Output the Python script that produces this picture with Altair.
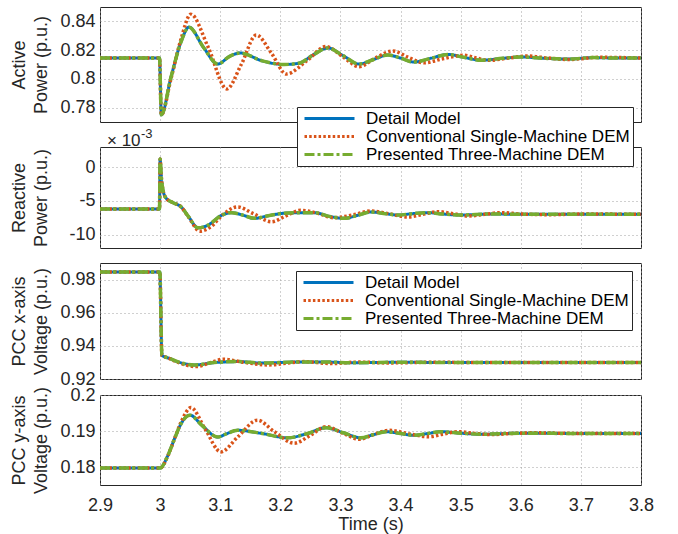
import altair as alt
import pandas as pd

SERIES = ["Detail Model", "Conventional Single-Machine DEM", "Presented Three-Machine DEM"]
COLORS = ["#0072BD", "#D95319", "#77AC30"]
DASHES = [[1, 0], [2.5, 2.2], [10, 3, 3, 3]]
WIDTHS = [3, 3.5, 3.5]
X_TICKS = [2.9, 3.0, 3.1, 3.2, 3.3, 3.4, 3.5, 3.6, 3.7, 3.8]

# Panel 1: active power (p.u.)
t_ap_det = [2.9, 2.999, 3.002, 3.018, 3.035, 3.048, 3.072, 3.096, 3.115, 3.133, 3.17, 3.206, 3.23, 3.256,
            3.279, 3.305, 3.331, 3.355, 3.379, 3.40, 3.422, 3.45, 3.479, 3.505, 3.534, 3.57, 3.60, 3.64,
            3.68, 3.72, 3.76, 3.8]
ap_det = [0.8145, 0.8145, 0.775, 0.801, 0.826, 0.836, 0.822, 0.8103, 0.8155, 0.818, 0.8125, 0.8100, 0.8108,
          0.817, 0.8215, 0.816, 0.8103, 0.8135, 0.8166, 0.8145, 0.8117, 0.8143, 0.817, 0.815, 0.813, 0.8143,
          0.8152, 0.8143, 0.8138, 0.8148, 0.8145, 0.8145]
t_ap_con = [2.9, 2.999, 3.002, 3.018, 3.035, 3.051, 3.08, 3.111, 3.135, 3.16, 3.185, 3.21, 3.245, 3.276,
            3.305, 3.331, 3.36, 3.387, 3.413, 3.439, 3.47, 3.506, 3.526, 3.546, 3.58, 3.612, 3.645, 3.68,
            3.73, 3.8]
ap_con = [0.8145, 0.8145, 0.775, 0.800, 0.828, 0.845, 0.822, 0.793, 0.810, 0.8305, 0.818, 0.8034, 0.813,
          0.8225, 0.815, 0.8085, 0.815, 0.8194, 0.815, 0.8112, 0.814, 0.8164, 0.8145, 0.8129, 0.8145, 0.8159,
          0.8145, 0.8135, 0.815, 0.8145]
t_ap_pre = t_ap_det
ap_pre = ap_det

# Panel 2: reactive power (x 1e-3 p.u.)
t_rp_det = [2.9, 2.999, 3.0, 3.002, 3.005, 3.01, 3.02, 3.035, 3.047, 3.063, 3.08, 3.101, 3.118, 3.137, 3.157,
            3.18, 3.213, 3.256, 3.284, 3.306, 3.33, 3.351, 3.375, 3.396, 3.42, 3.446, 3.47, 3.50, 3.55, 3.6,
            3.7, 3.8]
rp_det = [-6.2, -6.2, 1.2, -1.5, -3.5, -4.6, -5.2, -5.9, -7.3, -9.0, -8.6, -7.2, -6.75, -7.1, -7.6, -7.2,
          -6.8, -6.75, -7.35, -7.6, -7.1, -6.65, -6.9, -7.1, -6.9, -6.75, -6.95, -7.1, -6.95, -7.0, -7.0, -7.0]
t_rp_con = [2.9, 2.999, 3.0, 3.002, 3.005, 3.01, 3.02, 3.035, 3.048, 3.066, 3.085, 3.105, 3.129, 3.155,
            3.185, 3.21, 3.234, 3.26, 3.289, 3.32, 3.351, 3.38, 3.412, 3.437, 3.462, 3.487, 3.512, 3.54,
            3.567, 3.6, 3.65, 3.7, 3.8]
rp_con = [-6.2, -6.2, 1.2, -1.5, -3.5, -4.6, -5.2, -5.9, -7.5, -9.5, -8.8, -7.0, -5.9, -6.9, -8.1, -7.2,
          -6.4, -6.8, -7.5, -7.1, -6.5, -6.9, -7.4, -7.0, -6.6, -6.9, -7.25, -7.0, -6.75, -6.95, -7.05,
          -6.95, -7.0]
t_rp_pre = t_rp_det
rp_pre = rp_det

# Panel 3: PCC x-axis voltage (p.u.)
t_vx_det = [2.9, 2.9995, 3.003, 3.015, 3.03, 3.057, 3.09, 3.13, 3.17, 3.22, 3.27, 3.32, 3.4, 3.5, 3.6, 3.8]
vx_det = [0.9845, 0.9845, 0.9343, 0.9325, 0.9303, 0.9285, 0.9299, 0.9305, 0.9296, 0.9302, 0.9303, 0.9298,
          0.9301, 0.9299, 0.930, 0.930]
t_vx_con = [2.9, 2.9995, 3.003, 3.015, 3.03, 3.06, 3.085, 3.105, 3.14, 3.18, 3.21, 3.24, 3.284, 3.33, 3.38,
            3.45, 3.55, 3.8]
vx_con = [0.9845, 0.9845, 0.9343, 0.9325, 0.9300, 0.9275, 0.9300, 0.9319, 0.9300, 0.9285, 0.9295, 0.9305,
          0.9293, 0.9302, 0.9297, 0.9301, 0.9299, 0.930]
t_vx_pre = t_vx_det
vx_pre = vx_det

# Panel 4: PCC y-axis voltage (p.u.)
t_vy_det = [2.9, 3.0, 3.0126, 3.0236, 3.0348, 3.0431, 3.0497, 3.07, 3.0958, 3.11, 3.129, 3.17, 3.212, 3.245,
            3.276, 3.305, 3.334, 3.355, 3.376, 3.40, 3.422, 3.445, 3.467, 3.50, 3.534, 3.6, 3.7, 3.8]
vy_det = [0.1797, 0.1797, 0.1831, 0.1877, 0.1920, 0.1939, 0.1944, 0.1915, 0.1883, 0.1892, 0.1902, 0.1893,
          0.1881, 0.1893, 0.1909, 0.1895, 0.1881, 0.1890, 0.1898, 0.1893, 0.1888, 0.1893, 0.1898, 0.1894,
          0.1891, 0.1894, 0.1893, 0.1893]
t_vy_con = [2.9, 3.0, 3.0126, 3.0236, 3.035, 3.0514, 3.075, 3.101, 3.13, 3.162, 3.19, 3.223, 3.25, 3.276,
            3.305, 3.331, 3.355, 3.381, 3.415, 3.447, 3.47, 3.496, 3.525, 3.55, 3.585, 3.62, 3.7, 3.8]
vy_con = [0.1797, 0.1797, 0.1830, 0.1877, 0.1925, 0.1965, 0.1905, 0.1842, 0.1885, 0.1930, 0.1898, 0.1866,
          0.1888, 0.1912, 0.1893, 0.1877, 0.1890, 0.1902, 0.1892, 0.1884, 0.1891, 0.1898, 0.1893, 0.1890,
          0.1893, 0.1895, 0.1893, 0.1893]
t_vy_pre = t_vy_det
vy_pre = vy_det

FONT = "Liberation Sans"
TXT = "#262626"
W = 541


def make_legend(lx, ly):
    return alt.Legend(title=None, orient="none", legendX=lx, legendY=ly, fillColor="white",
                      strokeColor="#262626", padding=3, symbolType="stroke", symbolSize=2500,
                      symbolStrokeWidth=3, clipHeight=17, rowPadding=0, symbolOffset=3,
                      labelOffset=10, labelFontSize=17, labelFont=FONT, labelColor="black",
                      labelLimit=400)


def panel(times, values, ydom, yticks, title, height, leg=None, bottom=False, extra=()):
    x_axis = alt.Axis(values=X_TICKS, labelExpr="datum.value + ''", grid=True, ticks=False, tickSize=0,
                      domain=False, labels=bottom, labelFlush=False, labelOverlap=False,
                      labelFontSize=18, labelFont=FONT, labelColor=TXT,
                      labelPadding=11, title="Time (s)" if bottom else None, titleFontSize=18,
                      titleFont=FONT, titleColor=TXT, titleFontWeight="normal", titleY=30)
    y_axis = alt.Axis(values=yticks, labelExpr="datum.value + ''", grid=True, ticks=False, tickSize=0,
                      domain=False, labelFlush=False, labelOverlap=False,
                      labelFontSize=18, labelFont=FONT, labelColor=TXT, labelPadding=5,
                      title=title, titleFontSize=18, titleFont=FONT, titleColor=TXT,
                      titleFontWeight="normal", titleLineHeight=22, titleX=-72, titleY=height / 2)
    layers = []
    for i, name in enumerate(SERIES):
        df = pd.DataFrame({"t": times[i], "v": values[i], "series": name})
        layers.append(
            alt.Chart(df).mark_line(strokeWidth=WIDTHS[i], interpolate="monotone", clip=True).encode(
                x=alt.X("t:Q", scale=alt.Scale(domain=[2.9, 3.8], nice=False, zero=False), axis=x_axis),
                y=alt.Y("v:Q", scale=alt.Scale(domain=ydom, nice=False, zero=False), axis=y_axis),
                color=alt.Color("series:N", scale=alt.Scale(domain=SERIES, range=COLORS), legend=leg),
                strokeDash=alt.StrokeDash("series:N", scale=alt.Scale(domain=SERIES, range=DASHES),
                                          legend=leg),
            )
        )
    return alt.layer(*layers, *extra).properties(width=W, height=height)


def spacer(h):
    return alt.Chart(pd.DataFrame({"a": [0]})).mark_point(opacity=0).encode(
        x=alt.value(0), y=alt.value(0)
    ).properties(width=W, height=h, view=alt.ViewBackground(strokeOpacity=0))


exp_main = alt.Chart(pd.DataFrame({"s": ["× 10"]})).mark_text(
    align="left", baseline="alphabetic", fontSize=17, font=FONT, color=TXT
).encode(x=alt.value(7), y=alt.value(-1), text="s:N")
exp_sup = alt.Chart(pd.DataFrame({"s": ["-3"]})).mark_text(
    align="left", baseline="alphabetic", fontSize=13, font=FONT, color=TXT
).encode(x=alt.value(41), y=alt.value(-9), text="s:N")

p1 = panel([t_ap_det, t_ap_con, t_ap_pre], [ap_det, ap_con, ap_pre], [0.77, 0.85],
           [0.78, 0.8, 0.82, 0.84], ["Active", "Power (p.u.)"], 115)
p2 = panel([t_rp_det, t_rp_con, t_rp_pre], [rp_det, rp_con, rp_pre], [-12, 3],
           [-10, -5, 0], ["Reactive", "Power (p.u.)"], 101, leg=make_legend(197, -40),
           extra=(exp_main, exp_sup))
p3 = panel([t_vx_det, t_vx_con, t_vx_pre], [vx_det, vx_con, vx_pre], [0.92, 0.99],
           [0.92, 0.94, 0.96, 0.98], ["PCC x-axis", "Voltage (p.u.)"], 116, leg=make_legend(196, 8))
p4 = panel([t_vy_det, t_vy_con, t_vy_pre], [vy_det, vy_con, vy_pre], [0.175, 0.2],
           [0.18, 0.19, 0.2], ["PCC y-axis", "Voltage (p.u.)"], 90, bottom=True)

chart = alt.vconcat(p1, spacer(15), p2, spacer(5), p3, spacer(6), p4, spacing=5, bounds="flush").resolve_scale(
    color="independent", strokeDash="independent"
).properties(
    padding={"left": 9, "top": 6, "right": 5, "bottom": 5}
).configure_view(
    stroke="#262626", strokeWidth=1
).configure_axis(
    gridColor="#a0a0a0", gridDash=[1, 3], gridOpacity=1, gridWidth=1
)

chart.save("out.html", embed_options={"renderer": "svg", "actions": False})
